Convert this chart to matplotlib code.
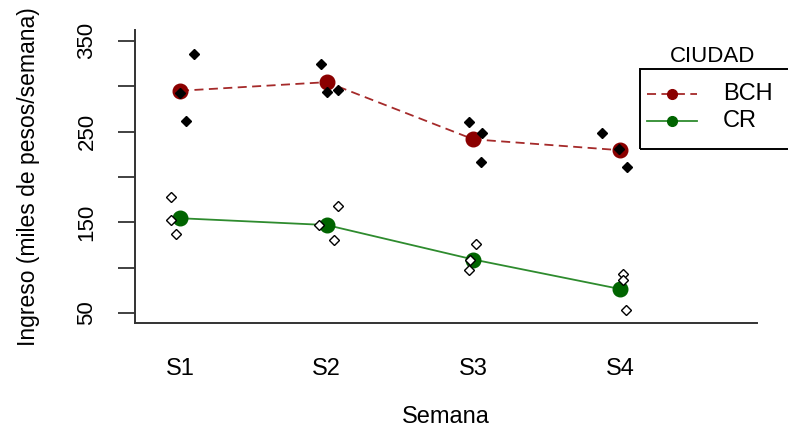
import matplotlib
matplotlib.use("Agg")
import matplotlib.pyplot as plt
from matplotlib.lines import Line2D
from matplotlib.patches import Rectangle

plt.rcParams['font.family'] = ['Liberation Sans', 'DejaVu Sans']

weeks = ["S1", "S2", "S3", "S4"]
week_pos = [1, 2, 3, 4]

# individual observations (x with jitter, y values)
bch_x = [1.095, 1.00, 1.04, 1.96, 2.00, 2.08, 2.97, 3.06, 3.05, 3.88, 3.99, 4.05]
bch_y = [335, 293, 262, 325, 294, 296, 261, 249, 216, 249, 231, 211]
cr_x = [0.94, 0.94, 0.97, 2.08, 1.95, 2.05, 3.02, 2.98, 2.97, 4.02, 4.02, 4.04]
cr_y = [178, 153, 137, 168, 147, 131, 126, 109, 97, 93, 86, 53]

# group means
bch_mean = [295, 304.5, 241.5, 229.5]
cr_mean = [154.5, 147, 109, 76.5]

yticks = [50, 100, 150, 200, 250, 300, 350]
ytick_labels = ["50", "", "150", "", "250", "", "350"]

fig = plt.figure(figsize=(7.88, 4.29), dpi=100)
ax = fig.add_axes([135/788, 1-323/429, (757-135)/788, (323-30)/429])

red_line = '#a52a2a'
red_pt = '#8b0000'
green_line = '#2e8b2e'
green_pt = '#006400'

ax.plot(week_pos, bch_mean, color=red_line, lw=1.3, ls=(0, (5, 3)), zorder=2)
ax.plot(week_pos, cr_mean, color=green_line, lw=1.3, zorder=2)
ax.plot(week_pos, bch_mean, ls='none', marker='o', ms=10.5, color=red_pt, zorder=3)
ax.plot(week_pos, cr_mean, ls='none', marker='o', ms=10.5, color=green_pt, zorder=3)
ax.plot(bch_x, bch_y, ls='none', marker='D', ms=5.5, mfc='black', mec='black', zorder=4)
ax.plot(cr_x, cr_y, ls='none', marker='D', ms=5.5, mfc='white', mec='black', mew=1.0, zorder=4)

ax.set_xlim(0.693, 4.934)
ax.set_ylim(39, 362)
ax.set_xticks(week_pos)
ax.set_xticklabels(weeks, fontsize=17)
ax.set_yticks(yticks)
ax.set_yticklabels(ytick_labels, fontsize=16, rotation=90, va='center')
ax.tick_params(axis='x', length=0, pad=25)
ax.tick_params(axis='y', length=12, width=1.3, color='#333333', pad=15)
for s in ['top', 'right']:
    ax.spines[s].set_visible(False)
for s in ['left', 'bottom']:
    ax.spines[s].set_linewidth(1.4)
    ax.spines[s].set_color('#333333')

ax.set_xlabel("Semana", fontsize=17, labelpad=19)
ax.set_ylabel("Ingreso (miles de pesos/semana)", fontsize=16.5, labelpad=26)

# legend drawn in figure pixel coordinates
W, H = 788, 429
def fx(px):
    return px / W
def fy(py):
    return 1 - py / H

fig.patches.append(Rectangle((fx(640), fy(149)), fx(800) - fx(640), fy(69) - fy(149),
                             transform=fig.transFigure, fill=False, ec='black', lw=1.4))
fig.text(fx(713), fy(57), "CIUDAD", fontsize=16, ha='center', va='center')
fig.add_artist(Line2D([fx(647), fx(697)], [fy(94), fy(94)], transform=fig.transFigure,
                      color=red_line, lw=1.3, ls=(0, (5, 3))))
fig.add_artist(Line2D([fx(672)], [fy(94)], transform=fig.transFigure, marker='o', ms=7,
                      color=red_pt, ls='none'))
fig.add_artist(Line2D([fx(647), fx(697)], [fy(121), fy(121)], transform=fig.transFigure,
                      color=green_line, lw=1.3))
fig.add_artist(Line2D([fx(672)], [fy(121)], transform=fig.transFigure, marker='o', ms=7,
                      color=green_pt, ls='none'))
fig.text(fx(723), fy(94), "BCH", fontsize=17, ha='left', va='center')
fig.text(fx(723), fy(121), "CR", fontsize=17, ha='left', va='center')

fig.savefig("out.png", dpi=100)
